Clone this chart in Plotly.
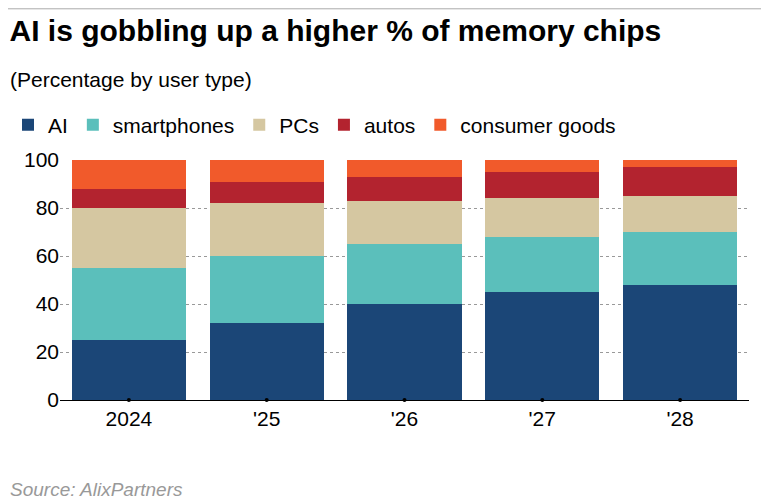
import plotly.graph_objects as go

years = ["2024", "'25", "'26", "'27", "'28"]
ai = [25, 32, 40, 45, 48]
smartphones = [30, 28, 25, 23, 22]
pcs = [25, 22, 18, 16, 15]
autos = [8, 9, 10, 11, 12]
consumer_goods = [12, 9, 7, 5, 3]

series = [
    ("AI", ai, "#1b4677"),
    ("smartphones", smartphones, "#5bbfbb"),
    ("PCs", pcs, "#d5c7a1"),
    ("autos", autos, "#b3232f"),
    ("consumer goods", consumer_goods, "#f15a2b"),
]

fig = go.Figure()
for name, vals, color in series:
    fig.add_trace(go.Bar(x=years, y=vals, name=name, marker=dict(color=color, line=dict(width=0))))

# small dots marking the category ticks
fig.add_trace(go.Scatter(x=years, y=[0] * len(years), mode="markers",
                         marker=dict(color="black", size=4), showlegend=False, hoverinfo="skip", cliponaxis=False))

font = "Liberation Sans, Arial, sans-serif"
fig.update_layout(
    barmode="stack",
    bargap=0.17,
    width=769, height=496,
    paper_bgcolor="white", plot_bgcolor="white",
    margin=dict(l=52, r=28, t=152, b=104, autoexpand=False),
    font=dict(family=font, size=20, color="black"),
    title=dict(text="<b>AI is gobbling up a higher % of memory chips</b>", x=0.002, xanchor="left",
               xref="container", y=0.975, yanchor="top", font=dict(size=30, color="black")),
    legend=dict(orientation="h", xref="container", yref="container", x=0.0, xanchor="left",
                y=0.805, yanchor="top", font=dict(size=21), traceorder="normal",
                itemsizing="constant", tracegroupgap=0),
    shapes=[dict(type="line", xref="paper", yref="paper", x0=-0.08, x1=1.04, y0=1.63, y1=1.63,
                 line=dict(color="#aaaaaa", width=1))],
    annotations=[
        dict(text="(Percentage by user type)", xref="paper", yref="paper", x=-0.075, y=1.39,
             xanchor="left", yanchor="top", showarrow=False, font=dict(size=21)),
        dict(text="<i>Source: AlixPartners</i>", xref="paper", yref="paper", x=-0.075, y=-0.32,
             xanchor="left", yanchor="top", showarrow=False, font=dict(size=19, color="#999999")),
    ],
)
fig.update_yaxes(range=[0, 100], tickvals=[0, 20, 40, 60, 80, 100], showgrid=True,
                 gridcolor="#999999", griddash="dot", gridwidth=1, zeroline=False,
                 ticks="", tickfont=dict(size=21))
fig.update_xaxes(showline=True, linecolor="black", linewidth=1, ticks="", tickfont=dict(size=21))

fig.write_html("out.html")
